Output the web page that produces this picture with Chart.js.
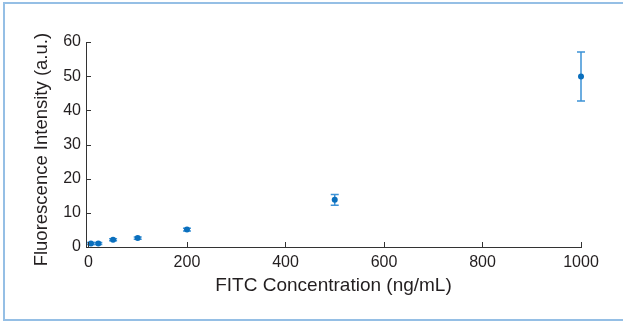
<!DOCTYPE html>
<html>
<head>
<meta charset="utf-8">
<script src="https://cdn.jsdelivr.net/npm/chart.js@4.4.1/dist/chart.umd.min.js"></script>
<style>
  html, body { margin: 0; padding: 0; background: #fff; }
  .frame { position: relative; width: 623px; height: 321px; overflow: hidden; }
  .frame::before {
    content: "";
    position: absolute;
    left: 3px; top: 2px; right: -10px; bottom: 0;
    border: 2px solid #95bfe5;
  }
  canvas { position: absolute; left: 0; top: 0; }
</style>
</head>
<body>
<div class="frame">
  <canvas id="chart" width="623" height="321"></canvas>
</div>
<script>
// FITC concentration (ng/mL) vs fluorescence intensity (a.u.)
const concentrations = [5, 20, 50, 100, 200, 500, 1000];
const intensity = [1.0, 1.0, 2.1, 2.6, 5.1, 13.8, 49.9];
const errors = [0.3, 0.3, 0.3, 0.3, 0.4, 1.6, 7.2];
const xTicks = [0, 200, 400, 600, 800, 1000];
const yTicks = [0, 10, 20, 30, 40, 50, 60];

const axisColor = "#333";
const textColor = "#231f20";
const pointColor = "#0a6fbd";
const errorColor = "#3d92d6";
const fontFamily = "'Liberation Sans', Arial, Helvetica, sans-serif";

// error bars, drawn under the points
const errorBars = {
    id: "errorBars",
    beforeDatasetsDraw(chart) {
        const { ctx, scales: { x, y } } = chart;
        ctx.save();
        ctx.strokeStyle = errorColor;
        ctx.lineWidth = 1.5;
        concentrations.forEach((c, i) => {
            const px = x.getPixelForValue(c);
            const top = y.getPixelForValue(intensity[i] + errors[i]);
            const bottom = y.getPixelForValue(intensity[i] - errors[i]);
            ctx.beginPath();
            ctx.moveTo(px, top);
            ctx.lineTo(px, bottom);
            ctx.moveTo(px - 4, top);
            ctx.lineTo(px + 4, top);
            ctx.moveTo(px - 4, bottom);
            ctx.lineTo(px + 4, bottom);
            ctx.stroke();
        });
        ctx.restore();
    }
};

// tick marks pointing into the plot
const innerTicks = {
    id: "innerTicks",
    afterDraw(chart) {
        const { ctx, chartArea, scales: { x, y } } = chart;
        ctx.save();
        ctx.strokeStyle = axisColor;
        ctx.lineWidth = 1;
        ctx.beginPath();
        xTicks.forEach(v => {
            const px = Math.round(x.getPixelForValue(v)) + 0.5;
            ctx.moveTo(px, chartArea.bottom);
            ctx.lineTo(px, chartArea.bottom - 5);
        });
        yTicks.forEach(v => {
            const py = Math.round(y.getPixelForValue(v)) + 0.5;
            ctx.moveTo(chartArea.left, py);
            ctx.lineTo(chartArea.left + 5, py);
        });
        ctx.stroke();
        ctx.restore();
    }
};

const ctx = document.getElementById("chart").getContext("2d");

new Chart(ctx, {
    type: "scatter",
    data: {
        datasets: [{
            label: "Fluorescence",
            data: concentrations.map((c, i) => ({ x: c, y: intensity[i] })),
            backgroundColor: pointColor,
            borderColor: pointColor,
            pointRadius: 3,
            borderWidth: 0,
            clip: false
        }]
    },
    options: {
        responsive: false,
        animation: false,
        devicePixelRatio: 1,
        layout: { padding: { top: 42, right: 42, bottom: 0, left: 0 } },
        plugins: {
            legend: { display: false },
            tooltip: { enabled: false }
        },
        scales: {
            x: {
                type: "linear",
                min: -5,
                max: 1000,
                afterBuildTicks: s => { s.ticks = xTicks.map(v => ({ value: v })); },
                afterFit: s => { s.height = 74; },
                grid: { display: false, drawTicks: false },
                border: { display: true, color: axisColor, width: 1 },
                ticks: {
                    padding: 6,
                    maxRotation: 0,
                    color: textColor,
                    font: { family: fontFamily, size: 16 },
                    callback: v => String(v)
                },
                title: {
                    display: true,
                    text: "FITC Concentration (ng/mL)",
                    color: textColor,
                    font: { family: fontFamily, size: 19 },
                    padding: { top: 0, bottom: 24 }
                }
            },
            y: {
                min: 0,
                max: 60,
                afterBuildTicks: s => { s.ticks = yTicks.map(v => ({ value: v })); },
                afterFit: s => { s.width = 86; },
                grid: { display: false, drawTicks: false },
                border: { display: true, color: axisColor, width: 1 },
                ticks: {
                    padding: 5,
                    color: textColor,
                    font: { family: fontFamily, size: 16 },
                    callback: v => String(v)
                },
                title: {
                    display: true,
                    // two trailing spaces nudge the centred title a little lower
                    text: "Fluorescence Intensity (a.u.)  ",
                    color: textColor,
                    font: { family: fontFamily, size: 18.5 },
                    padding: { top: 31, bottom: 0 }
                }
            }
        }
    },
    plugins: [errorBars, innerTicks]
});
</script>
</body>
</html>
